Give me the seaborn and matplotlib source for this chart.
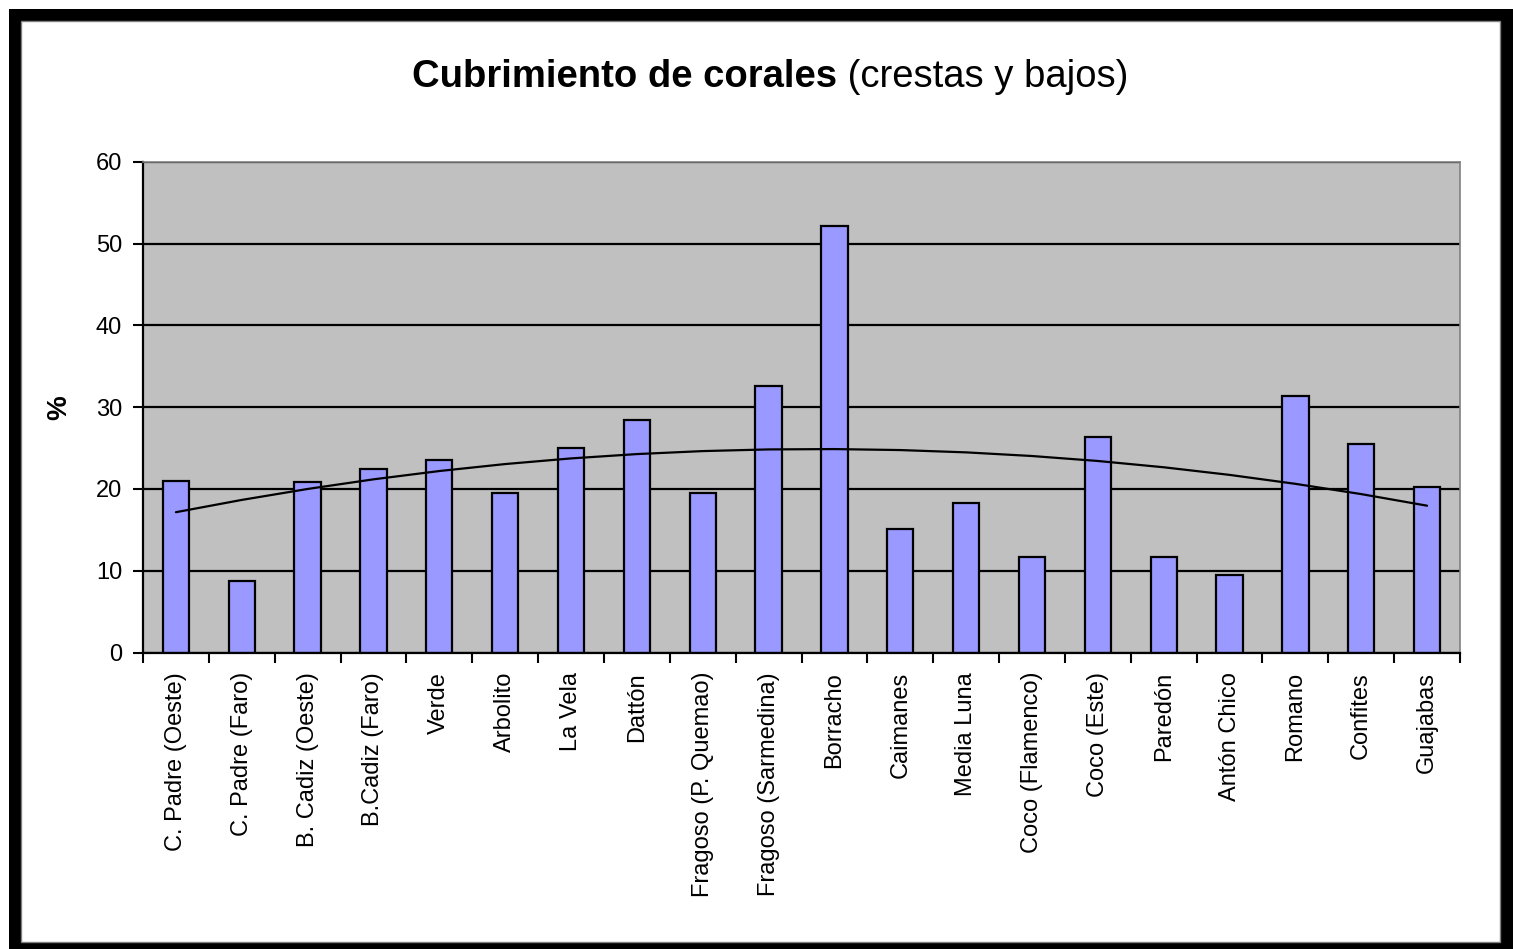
import numpy as np
import pandas as pd
import matplotlib
matplotlib.use("Agg")
import matplotlib.pyplot as plt
from matplotlib.patches import Rectangle
from matplotlib.ticker import FixedLocator
import seaborn as sns

# Coral cover per reef site (%)
sitios = [
    "C. Padre (Oeste)", "C. Padre (Faro)", "B. Cadiz (Oeste)", "B.Cadiz (Faro)",
    "Verde", "Arbolito", "La Vela", "Dattón", "Fragoso (P. Quemao)",
    "Fragoso (Sarmedina)", "Borracho", "Caimanes", "Media Luna",
    "Coco (Flamenco)", "Coco (Este)", "Paredón", "Antón Chico", "Romano",
    "Confites", "Guajabas",
]
cobertura = [21.0, 8.8, 20.8, 22.5, 23.5, 19.5, 25.0, 28.4, 19.5, 32.6,
             52.2, 15.1, 18.3, 11.7, 26.4, 11.7, 9.5, 31.4, 25.5, 20.3]
y_ticks = [0, 10, 20, 30, 40, 50, 60]

titulo_negrita = "Cubrimiento de corales"
titulo_normal = " (crestas y bajos)"

sns.set_style("ticks")
plt.rcParams["font.family"] = ["Liberation Sans", "DejaVu Sans"]

W, H = 1513, 949
fig = plt.figure(figsize=(W / 100, H / 100), dpi=100)
fig.patch.set_facecolor("white")

# Black frame around the chart area
fig.add_artist(Rectangle((9 / W, 0), (W - 9) / W, (H - 9) / H,
                         transform=fig.transFigure, facecolor="black",
                         edgecolor="none", zorder=-3))
fig.add_artist(Rectangle((21 / W, 7 / H), (1500 - 21) / W, (942 - 21) / H,
                         transform=fig.transFigure, facecolor="white",
                         edgecolor="#808080", linewidth=1, zorder=-2))

left, right, top, bottom = 143, 1460, 162, 652.5
ax = fig.add_axes([left / W, (H - bottom) / H, (right - left) / W, (bottom - top) / H])
ax.set_zorder(1)
ax.set_facecolor("#C0C0C0")

df = pd.DataFrame({"sitio": sitios, "cobertura": cobertura})
sns.barplot(data=df, x="sitio", y="cobertura", color="#9999FF", saturation=1,
            edgecolor="black", linewidth=1.6, width=0.4, ax=ax, zorder=2)

# Second-order polynomial trend line across the sites
xi = np.arange(len(cobertura))
coef = np.polyfit(xi, cobertura, 2)
tendencia = pd.DataFrame({"x": xi, "y": np.polyval(coef, xi)})
sns.lineplot(data=tendencia, x="x", y="y", color="black", linewidth=1.6,
             ax=ax, zorder=3)

ax.set_xlim(-0.5, len(sitios) - 0.5)
ax.set_ylim(0, 60)
ax.set_yticks(y_ticks)
ax.set_yticklabels([str(v) for v in y_ticks])
ax.set_xticks(xi)
ax.set_xticklabels(sitios, rotation=90, va="top", ha="center")
ax.xaxis.set_minor_locator(FixedLocator(np.arange(-0.5, len(sitios), 1.0)))

ax.tick_params(axis="x", which="major", length=0, pad=14, labelsize=17, colors="black")
ax.tick_params(axis="x", which="minor", length=7, width=1.5, color="black", direction="out")
ax.tick_params(axis="y", which="major", length=7, width=1.5, pad=8, labelsize=17,
               colors="black", direction="out")

ax.yaxis.grid(True, color="black", linewidth=1.6)
ax.xaxis.grid(False)
ax.set_axisbelow(True)

for s in ("left", "bottom"):
    ax.spines[s].set_color("black")
    ax.spines[s].set_linewidth(1.6)
for s in ("top", "right"):
    ax.spines[s].set_color("#808080")
    ax.spines[s].set_linewidth(1.2)

ax.set_xlabel("")
ax.set_ylabel("%", fontsize=20, fontweight="bold", color="black")
ax.yaxis.set_label_coords(-0.054, 0.5)

# Title: bold lead followed by regular qualifier, centred as a whole
t1 = fig.text(0, (H - 87) / H, titulo_negrita, fontsize=27.5, fontweight="bold",
              ha="left", va="baseline", color="black")
t2 = fig.text(0, (H - 87) / H, titulo_normal, fontsize=27.5,
              ha="left", va="baseline", color="black")
fig.canvas.draw()
r = fig.canvas.get_renderer()
w1 = t1.get_window_extent(r).width
w2 = t2.get_window_extent(r).width
x0 = 770 - (w1 + w2) / 2
t1.set_x(x0 / W)
t2.set_x((x0 + w1) / W)

fig.savefig("out.png", dpi=100, facecolor=fig.get_facecolor())
